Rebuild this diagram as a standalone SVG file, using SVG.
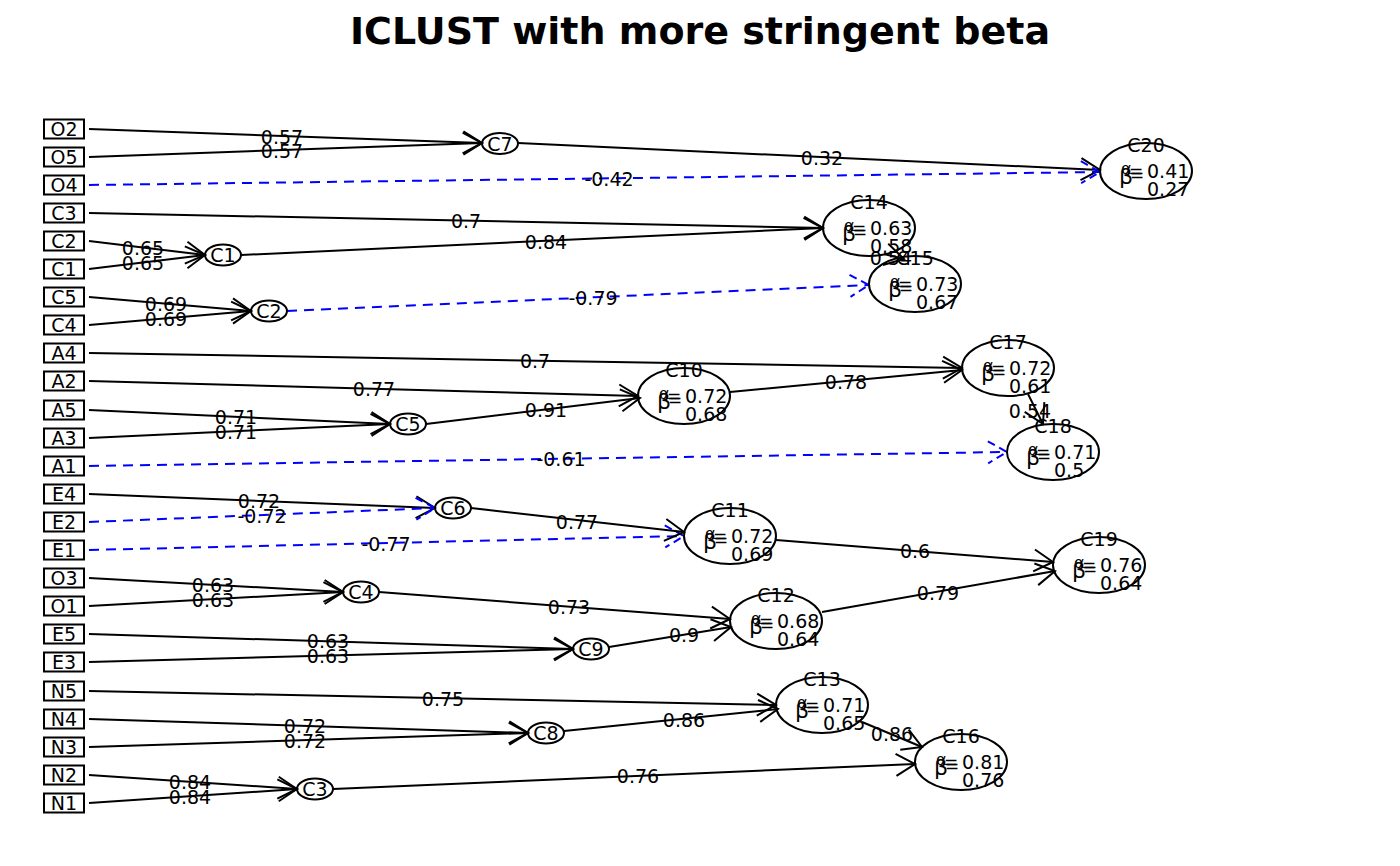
<svg xmlns="http://www.w3.org/2000/svg" width="1400" height="866" viewBox="0 0 1400 866">
<style>
text{font-family:"DejaVu Sans","Liberation Sans",sans-serif;font-size:19px;fill:#000}
.m{text-anchor:middle}
.title{font-size:38px;font-weight:bold;text-anchor:middle}
.box{fill:#fff;stroke:#000;stroke-width:2}
.ell{fill:none;stroke:#000;stroke-width:2}
.e{stroke:#000;stroke-width:2;fill:none;marker-end:url(#ah)}
.n{stroke:#0000ff;stroke-width:2;fill:none;stroke-dasharray:10,7;marker-end:url(#ahb)}
.a{font-size:16px}
.b{font-size:22px}
.q{font-size:17px}
</style>
<defs>
<marker id="ah" markerUnits="userSpaceOnUse" orient="auto" refX="0" refY="0" markerWidth="40" markerHeight="40" viewBox="-25 -20 30 40" overflow="visible">
<path d="M-19,-11 L0,0 L-19,11" fill="none" stroke="#000" stroke-width="2"/>
</marker>
<marker id="ahb" markerUnits="userSpaceOnUse" orient="auto" refX="0" refY="0" markerWidth="40" markerHeight="40" viewBox="-25 -20 30 40" overflow="visible">
<path d="M-19,-11 L0,0 L-19,11" fill="none" stroke="#0000ff" stroke-width="2" stroke-dasharray="8,5"/>
</marker>
</defs>
<rect width="1400" height="866" fill="#fff"/>
<text class="title" x="700" y="44">ICLUST with more stringent beta</text>

<g id="connectors">
<line class="e" x1="89" y1="129" x2="482" y2="143"/>
<line class="e" x1="89" y1="157" x2="482" y2="143"/>
<line class="e" x1="518" y1="143" x2="1100" y2="170"/>
<line class="n" x1="89" y1="185" x2="1100" y2="172"/>
<line class="e" x1="89" y1="213" x2="823" y2="228"/>
<line class="e" x1="89" y1="241" x2="205" y2="255"/>
<line class="e" x1="89" y1="269" x2="205" y2="255"/>
<line class="e" x1="241" y1="255" x2="823" y2="228"/>
<line class="e" x1="884" y1="254" x2="904" y2="259"/>
<line class="e" x1="89" y1="297" x2="251" y2="311"/>
<line class="e" x1="89" y1="325" x2="251" y2="311"/>
<line class="n" x1="287" y1="311" x2="869" y2="285"/>
<line class="e" x1="89" y1="353" x2="962" y2="368"/>
<line class="e" x1="89" y1="381" x2="638" y2="396"/>
<line class="e" x1="89" y1="410" x2="390" y2="424"/>
<line class="e" x1="89" y1="438" x2="390" y2="424"/>
<line class="e" x1="426" y1="424" x2="640" y2="398"/>
<line class="e" x1="730" y1="392" x2="962" y2="370"/>
<line class="e" x1="1028" y1="394" x2="1043" y2="424"/>
<line class="n" x1="89" y1="466" x2="1007" y2="452"/>
<line class="e" x1="89" y1="494" x2="435" y2="508"/>
<line class="n" x1="89" y1="522" x2="435" y2="508"/>
<line class="n" x1="89" y1="550" x2="684" y2="536"/>
<line class="e" x1="471" y1="508" x2="684" y2="532"/>
<line class="e" x1="776" y1="540" x2="1053" y2="562"/>
<line class="e" x1="89" y1="578" x2="343" y2="592"/>
<line class="e" x1="89" y1="606" x2="343" y2="592"/>
<line class="e" x1="379" y1="592" x2="730" y2="619"/>
<line class="e" x1="89" y1="634" x2="573" y2="649"/>
<line class="e" x1="89" y1="662" x2="573" y2="649"/>
<line class="e" x1="609" y1="647" x2="731" y2="627"/>
<line class="e" x1="822" y1="612" x2="1055" y2="571"/>
<line class="e" x1="89" y1="691" x2="776" y2="705"/>
<line class="e" x1="89" y1="719" x2="528" y2="733"/>
<line class="e" x1="89" y1="747" x2="528" y2="733"/>
<line class="e" x1="564" y1="731" x2="778" y2="709"/>
<line class="e" x1="862" y1="722" x2="922" y2="747"/>
<line class="e" x1="333" y1="789" x2="915" y2="764"/>
<line class="e" x1="89" y1="775" x2="297" y2="789"/>
<line class="e" x1="89" y1="803" x2="297" y2="789"/>
<g class="lbl">
<text class="m" x="282" y="144">0.57</text>
<text class="m" x="282" y="158">0.57</text>
<text class="m" x="822" y="165">0.32</text>
<text class="m" x="609" y="186">-0.42</text>
<text class="m" x="466" y="228">0.7</text>
<text class="m" x="143" y="255">0.65</text>
<text class="m" x="143" y="270">0.65</text>
<text class="m" x="546" y="249">0.84</text>
<text class="m" x="891" y="265">0.54</text>
<text class="m" x="166" y="311">0.69</text>
<text class="m" x="166" y="326">0.69</text>
<text class="m" x="593" y="305">-0.79</text>
<text class="m" x="535" y="368">0.7</text>
<text class="m" x="374" y="396">0.77</text>
<text class="m" x="236" y="424">0.71</text>
<text class="m" x="236" y="439">0.71</text>
<text class="m" x="546" y="417">0.91</text>
<text class="m" x="846" y="389">0.78</text>
<text class="m" x="1030" y="418">0.54</text>
<text class="m" x="561" y="466">-0.61</text>
<text class="m" x="259" y="508">0.72</text>
<text class="m" x="262" y="523">-0.72</text>
<text class="m" x="386" y="551">-0.77</text>
<text class="m" x="577" y="529">0.77</text>
<text class="m" x="915" y="558">0.6</text>
<text class="m" x="213" y="592">0.63</text>
<text class="m" x="213" y="607">0.63</text>
<text class="m" x="569" y="614">0.73</text>
<text class="m" x="328" y="648">0.63</text>
<text class="m" x="328" y="663">0.63</text>
<text class="m" x="684" y="642">0.9</text>
<text class="m" x="938" y="600">0.79</text>
<text class="m" x="443" y="706">0.75</text>
<text class="m" x="305" y="733">0.72</text>
<text class="m" x="305" y="748">0.72</text>
<text class="m" x="684" y="727">0.86</text>
<text class="m" x="892" y="741">0.86</text>
<text class="m" x="638" y="783">0.76</text>
<text class="m" x="190" y="789">0.84</text>
<text class="m" x="190" y="804">0.84</text>
</g>
</g>

<g id="v-O2"><rect class="box" x="44" y="119.5" width="40" height="19"/><text class="m" x="64" y="136">O2</text></g>
<g id="v-O5"><rect class="box" x="44" y="147.5" width="40" height="19"/><text class="m" x="64" y="164">O5</text></g>
<g id="v-O4"><rect class="box" x="44" y="175.5" width="40" height="19"/><text class="m" x="64" y="192">O4</text></g>
<g id="v-C3"><rect class="box" x="44" y="203.5" width="40" height="19"/><text class="m" x="64" y="220">C3</text></g>
<g id="v-C2"><rect class="box" x="44" y="231.5" width="40" height="19"/><text class="m" x="64" y="248">C2</text></g>
<g id="v-C1"><rect class="box" x="44" y="259.5" width="40" height="19"/><text class="m" x="64" y="276">C1</text></g>
<g id="v-C5"><rect class="box" x="44" y="287.5" width="40" height="19"/><text class="m" x="64" y="304">C5</text></g>
<g id="v-C4"><rect class="box" x="44" y="315.5" width="40" height="19"/><text class="m" x="64" y="332">C4</text></g>
<g id="v-A4"><rect class="box" x="44" y="343.5" width="40" height="19"/><text class="m" x="64" y="360">A4</text></g>
<g id="v-A2"><rect class="box" x="44" y="371.5" width="40" height="19"/><text class="m" x="64" y="388">A2</text></g>
<g id="v-A5"><rect class="box" x="44" y="400.5" width="40" height="19"/><text class="m" x="64" y="417">A5</text></g>
<g id="v-A3"><rect class="box" x="44" y="428.5" width="40" height="19"/><text class="m" x="64" y="445">A3</text></g>
<g id="v-A1"><rect class="box" x="44" y="456.5" width="40" height="19"/><text class="m" x="64" y="473">A1</text></g>
<g id="v-E4"><rect class="box" x="44" y="484.5" width="40" height="19"/><text class="m" x="64" y="501">E4</text></g>
<g id="v-E2"><rect class="box" x="44" y="512.5" width="40" height="19"/><text class="m" x="64" y="529">E2</text></g>
<g id="v-E1"><rect class="box" x="44" y="540.5" width="40" height="19"/><text class="m" x="64" y="557">E1</text></g>
<g id="v-O3"><rect class="box" x="44" y="568.5" width="40" height="19"/><text class="m" x="64" y="585">O3</text></g>
<g id="v-O1"><rect class="box" x="44" y="596.5" width="40" height="19"/><text class="m" x="64" y="613">O1</text></g>
<g id="v-E5"><rect class="box" x="44" y="624.5" width="40" height="19"/><text class="m" x="64" y="641">E5</text></g>
<g id="v-E3"><rect class="box" x="44" y="652.5" width="40" height="19"/><text class="m" x="64" y="669">E3</text></g>
<g id="v-N5"><rect class="box" x="44" y="681.5" width="40" height="19"/><text class="m" x="64" y="698">N5</text></g>
<g id="v-N4"><rect class="box" x="44" y="709.5" width="40" height="19"/><text class="m" x="64" y="726">N4</text></g>
<g id="v-N3"><rect class="box" x="44" y="737.5" width="40" height="19"/><text class="m" x="64" y="754">N3</text></g>
<g id="v-N2"><rect class="box" x="44" y="765.5" width="40" height="19"/><text class="m" x="64" y="782">N2</text></g>
<g id="v-N1"><rect class="box" x="44" y="793.5" width="40" height="19"/><text class="m" x="64" y="810">N1</text></g>

<g id="c-C7"><ellipse class="ell" cx="500" cy="143.5" rx="18" ry="10.5"/><text class="m" x="500" y="150.5">C7</text></g>
<g id="c-C1"><ellipse class="ell" cx="223" cy="255" rx="18" ry="10.5"/><text class="m" x="223" y="262">C1</text></g>
<g id="c-C2"><ellipse class="ell" cx="269" cy="311" rx="18" ry="10.5"/><text class="m" x="269" y="318">C2</text></g>
<g id="c-C5"><ellipse class="ell" cx="408" cy="424" rx="18" ry="10.5"/><text class="m" x="408" y="431">C5</text></g>
<g id="c-C6"><ellipse class="ell" cx="453" cy="508" rx="18" ry="10.5"/><text class="m" x="453" y="515">C6</text></g>
<g id="c-C4"><ellipse class="ell" cx="361" cy="592" rx="18" ry="10.5"/><text class="m" x="361" y="599">C4</text></g>
<g id="c-C9"><ellipse class="ell" cx="591" cy="649" rx="18" ry="10.5"/><text class="m" x="591" y="656">C9</text></g>
<g id="c-C8"><ellipse class="ell" cx="546" cy="733" rx="18" ry="10.5"/><text class="m" x="546" y="740">C8</text></g>
<g id="c-C3"><ellipse class="ell" cx="315" cy="789" rx="18" ry="10.5"/><text class="m" x="315" y="796">C3</text></g>

<g id="c-C20" transform="translate(1146,171)"><ellipse class="ell" rx="46" ry="28"/><text class="m" y="-19">C20</text><text class="a" x="-25" y="3">α</text><text class="b" x="-27" y="13">β</text><text class="q" x="-17" y="6">=</text><text class="q" x="-16" y="10">=</text><text x="1" y="7">0.41</text><text x="1" y="25">0.27</text></g>
<g id="c-C14" transform="translate(869,228)"><ellipse class="ell" rx="46" ry="28"/><text class="m" y="-19">C14</text><text class="a" x="-25" y="3">α</text><text class="b" x="-27" y="13">β</text><text class="q" x="-17" y="6">=</text><text class="q" x="-16" y="10">=</text><text x="1" y="7">0.63</text><text x="1" y="25">0.58</text></g>
<g id="c-C15" transform="translate(915,284)"><ellipse class="ell" rx="46" ry="28"/><text class="m" y="-19">C15</text><text class="a" x="-25" y="3">α</text><text class="b" x="-27" y="13">β</text><text class="q" x="-17" y="6">=</text><text class="q" x="-16" y="10">=</text><text x="1" y="7">0.73</text><text x="1" y="25">0.67</text></g>
<g id="c-C17" transform="translate(1008,368)"><ellipse class="ell" rx="46" ry="28"/><text class="m" y="-19">C17</text><text class="a" x="-25" y="3">α</text><text class="b" x="-27" y="13">β</text><text class="q" x="-17" y="6">=</text><text class="q" x="-16" y="10">=</text><text x="1" y="7">0.72</text><text x="1" y="25">0.61</text></g>
<g id="c-C10" transform="translate(684,396)"><ellipse class="ell" rx="46" ry="28"/><text class="m" y="-19">C10</text><text class="a" x="-25" y="3">α</text><text class="b" x="-27" y="13">β</text><text class="q" x="-17" y="6">=</text><text class="q" x="-16" y="10">=</text><text x="1" y="7">0.72</text><text x="1" y="25">0.68</text></g>
<g id="c-C18" transform="translate(1053,452)"><ellipse class="ell" rx="46" ry="28"/><text class="m" y="-19">C18</text><text class="a" x="-25" y="3">α</text><text class="b" x="-27" y="13">β</text><text class="q" x="-17" y="6">=</text><text class="q" x="-16" y="10">=</text><text x="1" y="7">0.71</text><text x="1" y="25">0.5</text></g>
<g id="c-C11" transform="translate(730,536)"><ellipse class="ell" rx="46" ry="28"/><text class="m" y="-19">C11</text><text class="a" x="-25" y="3">α</text><text class="b" x="-27" y="13">β</text><text class="q" x="-17" y="6">=</text><text class="q" x="-16" y="10">=</text><text x="1" y="7">0.72</text><text x="1" y="25">0.69</text></g>
<g id="c-C19" transform="translate(1099,565)"><ellipse class="ell" rx="46" ry="28"/><text class="m" y="-19">C19</text><text class="a" x="-25" y="3">α</text><text class="b" x="-27" y="13">β</text><text class="q" x="-17" y="6">=</text><text class="q" x="-16" y="10">=</text><text x="1" y="7">0.76</text><text x="1" y="25">0.64</text></g>
<g id="c-C12" transform="translate(776,621)"><ellipse class="ell" rx="46" ry="28"/><text class="m" y="-19">C12</text><text class="a" x="-25" y="3">α</text><text class="b" x="-27" y="13">β</text><text class="q" x="-17" y="6">=</text><text class="q" x="-16" y="10">=</text><text x="1" y="7">0.68</text><text x="1" y="25">0.64</text></g>
<g id="c-C13" transform="translate(822,705)"><ellipse class="ell" rx="46" ry="28"/><text class="m" y="-19">C13</text><text class="a" x="-25" y="3">α</text><text class="b" x="-27" y="13">β</text><text class="q" x="-17" y="6">=</text><text class="q" x="-16" y="10">=</text><text x="1" y="7">0.71</text><text x="1" y="25">0.65</text></g>
<g id="c-C16" transform="translate(961,762)"><ellipse class="ell" rx="46" ry="28"/><text class="m" y="-19">C16</text><text class="a" x="-25" y="3">α</text><text class="b" x="-27" y="13">β</text><text class="q" x="-17" y="6">=</text><text class="q" x="-16" y="10">=</text><text x="1" y="7">0.81</text><text x="1" y="25">0.76</text></g>
</svg>
